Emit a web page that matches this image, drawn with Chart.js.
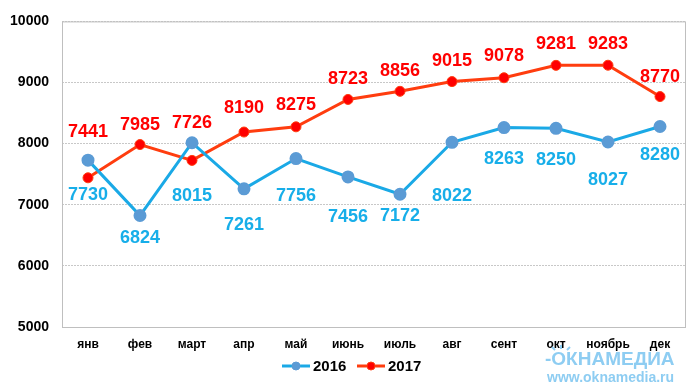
<!DOCTYPE html>
<html>
<head>
<meta charset="utf-8">
<script src="https://cdn.jsdelivr.net/npm/chart.js@4/dist/chart.umd.min.js"></script>
<style>
  html, body { margin: 0; padding: 0; background: #fff; }
  #wrap { width: 700px; height: 386px; }
</style>
</head>
<body>
<div id="wrap"><canvas id="chart" width="700" height="386"></canvas></div>
<script>
// Data
const months = ['янв', 'фев', 'март', 'апр', 'май', 'июнь', 'июль', 'авг', 'сент', 'окт', 'ноябрь', 'дек'];
const values2016 = [7730, 6824, 8015, 7261, 7756, 7456, 7172, 8022, 8263, 8250, 8027, 8280];
const values2017 = [7441, 7985, 7726, 8190, 8275, 8723, 8856, 9015, 9078, 9281, 9283, 8770];
const yTicks = [5000, 6000, 7000, 8000, 9000, 10000];

// label offsets in px (negative = above the point), like the hand placed excel labels
const shift2016 = [35, 23, 53, 36, 37, 40, 22, 54, 31, 32, 38, 29];
const shift2017 = [-46, -20, -37, -24, -22, -20, -20, -21, -22, -21, -21, -20];

const BLUE_LINE = '#1aa9e6';
const BLUE_DOT = '#5b9bd5';
const BLUE_TEXT = '#17aee9';
const RED_LINE = '#ff3d0f';
const RED_DOT = '#ff0000';
const RED_TEXT = '#ff0000';
const FONT = '"Liberation Sans", Arial, sans-serif';

// value labels, frame, legend and watermark
const extras = {
    id: 'extras',
    beforeDatasetsDraw(chart) {
        const { ctx, chartArea: a } = chart;
        ctx.save();
        ctx.strokeStyle = '#bfbfbf';
        ctx.lineWidth = 1;
        ctx.strokeRect(a.left + 0.5, a.top + 0.5, a.right - a.left - 1, a.bottom - a.top);
        ctx.restore();
    },
    afterDatasetsDraw(chart) {
        const ctx = chart.ctx;
        ctx.save();
        ctx.font = 'bold 18px ' + FONT;
        ctx.textAlign = 'center';
        ctx.textBaseline = 'middle';
        const sets = [[0, shift2016, BLUE_TEXT, values2016], [1, shift2017, RED_TEXT, values2017]];
        sets.forEach(([idx, shifts, color, vals]) => {
            const meta = chart.getDatasetMeta(idx);
            ctx.fillStyle = color;
            meta.data.forEach((pt, i) => {
                ctx.fillText(String(vals[i]), pt.x, pt.y + shifts[i]);
            });
        });

        // legend
        const ly = 366;
        const items = [[282, '2016', BLUE_LINE, BLUE_DOT, BLUE_DOT], [357, '2017', RED_LINE, RED_DOT, RED_LINE]];
        items.forEach(([x, txt, line, dot, border]) => {
            ctx.strokeStyle = line;
            ctx.lineWidth = 3;
            ctx.beginPath();
            ctx.moveTo(x, ly);
            ctx.lineTo(x + 28, ly);
            ctx.stroke();
            ctx.fillStyle = dot;
            ctx.strokeStyle = border;
            ctx.lineWidth = 1;
            ctx.beginPath();
            ctx.arc(x + 14, ly, 4, 0, Math.PI * 2);
            ctx.fill();
            ctx.stroke();
            ctx.fillStyle = '#000';
            ctx.font = 'bold 15px ' + FONT;
            ctx.textAlign = 'left';
            ctx.fillText(txt, x + 31, ly + 1);
        });

        // watermark (logo text + little sun rays over the first letter)
        ctx.fillStyle = '#8ecdf2';
        ctx.strokeStyle = '#8ecdf2';
        ctx.textAlign = 'left';
        ctx.font = 'bold 19px ' + FONT;
        ctx.fillText('-ОКНАМЕДИА', 545, 360);
        ctx.lineWidth = 2;
        [[555, 350, 552, 347], [561, 349, 561, 345], [567, 350, 570, 347]].forEach(r => {
            ctx.beginPath();
            ctx.moveTo(r[0], r[1]);
            ctx.lineTo(r[2], r[3]);
            ctx.stroke();
        });
        ctx.font = 'bold 14px ' + FONT;
        ctx.fillText('www.oknamedia.ru', 547, 378);
        ctx.restore();
    }
};

const ctx = document.getElementById('chart').getContext('2d');
new Chart(ctx, {
    type: 'line',
    data: {
        labels: months,
        datasets: [{
            label: '2016',
            data: values2016,
            borderColor: BLUE_LINE,
            backgroundColor: BLUE_DOT,
            pointBackgroundColor: BLUE_DOT,
            pointBorderColor: BLUE_DOT,
            borderWidth: 3,
            pointRadius: 5,
            tension: 0
        }, {
            label: '2017',
            data: values2017,
            borderColor: RED_LINE,
            backgroundColor: RED_DOT,
            pointBackgroundColor: RED_DOT,
            pointBorderColor: RED_LINE,
            pointBorderWidth: 1,
            borderWidth: 3,
            pointRadius: 5,
            tension: 0
        }]
    },
    options: {
        responsive: false,
        animation: false,
        layout: {
            padding: { top: 18, right: 14, bottom: 0, left: 0 }
        },
        plugins: {
            legend: { display: false },
            tooltip: { enabled: false }
        },
        scales: {
            x: {
                offset: true,
                grid: { display: false },
                border: { display: false },
                ticks: {
                    color: '#000',
                    padding: 2,
                    maxRotation: 0,
                    font: { family: FONT, size: 12, weight: 'bold' }
                },
                afterFit: function(scale) { scale.height = 59; }
            },
            y: {
                min: 5000,
                max: 10000,
                afterBuildTicks: function(scale) {
                    scale.ticks = yTicks.map(v => ({ value: v }));
                },
                grid: {
                    color: '#c8c8c8',
                    lineWidth: 1,
                    drawTicks: false
                },
                border: { display: false, dash: [2, 1] },
                ticks: {
                    color: '#000',
                    padding: 13,
                    font: { family: FONT, size: 14, weight: 'bold' },
                    callback: function(value) { return String(value); }
                },
                afterFit: function(scale) { scale.width = 62; }
            }
        }
    },
    plugins: [extras]
});
</script>
</body>
</html>
